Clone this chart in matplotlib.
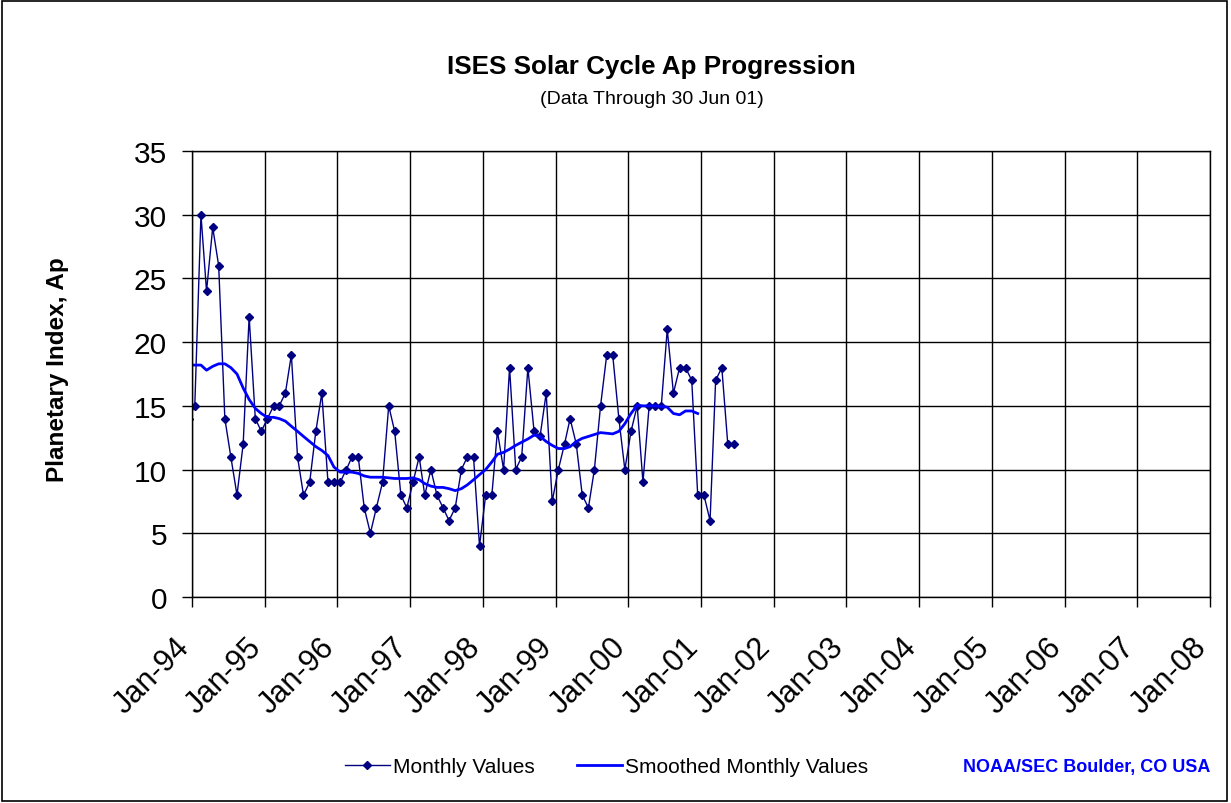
import matplotlib
matplotlib.use("Agg")
import matplotlib.pyplot as plt
import matplotlib.dates as mdates
from matplotlib.patches import Rectangle
from matplotlib.transforms import ScaledTranslation
import pandas as pd

plt.rcParams['font.family'] = ['Liberation Sans', 'DejaVu Sans']

# monthly Ap, Dec 1993 .. Jun 2001
monthly_ap = [14,
              15, 30, 24, 29, 26, 14, 11, 8, 12, 22, 14, 13,
              14, 15, 15, 16, 19, 11, 8, 9, 13, 16, 9, 9,
              9, 10, 11, 11, 7, 5, 7, 9, 15, 13, 8, 7,
              9, 11, 8, 10, 8, 7, 6, 7, 10, 11, 11, 4,
              8, 8, 13, 10, 18, 10, 11, 18, 13, 12.6, 16, 7.5,
              10, 12, 14, 12, 8, 7, 10, 15, 19, 19, 14, 10,
              13, 15, 9, 15, 15, 15, 21, 16, 18, 18, 17, 8,
              8, 6, 17, 18, 12, 12]

# smoothed monthly Ap, Dec 1993 .. Dec 2000
smoothed_ap = [18.2,
               18.2, 18.2, 17.8, 18.1, 18.3, 18.3, 18.0, 17.5, 16.4, 15.5, 14.8, 14.4,
               14.1, 14.1, 14.0, 13.8, 13.4, 13.0, 12.6, 12.2, 11.8, 11.5, 11.1, 10.2,
               9.8, 9.8, 9.8, 9.7, 9.5, 9.4, 9.4, 9.4, 9.35, 9.3, 9.3, 9.3,
               9.35, 9.2, 8.9, 8.7, 8.6, 8.6, 8.5, 8.35, 8.5, 8.8, 9.2, 9.6,
               10.0, 10.6, 11.2, 11.35, 11.6, 11.9, 12.15, 12.4, 12.7, 12.6, 12.2, 11.9,
               11.65, 11.65, 11.8, 12.2, 12.45, 12.6, 12.75, 12.9, 12.85, 12.8, 13.0, 13.6,
               14.4, 15.05, 15.0, 15.0, 15.0, 14.95, 14.9, 14.4, 14.3, 14.6, 14.6, 14.4]

monthly_dates = pd.date_range('1993-12-01', periods=len(monthly_ap), freq='MS') + pd.Timedelta(days=14)
smoothed_dates = pd.date_range('1993-12-01', periods=len(smoothed_ap), freq='MS') + pd.Timedelta(days=14)

y_ticks = [0, 5, 10, 15, 20, 25, 30, 35]

fig = plt.figure(figsize=(12.31, 8.04), dpi=100)
ax = fig.add_axes([192 / 1231, 1 - 598 / 804, (1210 - 192) / 1231, (598 - 152) / 804])

ax.plot(monthly_dates, monthly_ap, color='#000080', lw=1.0, marker='D', ms=3.6,
        label='Monthly Values')
ax.plot(smoothed_dates, smoothed_ap, color='#0000FF', lw=2.0,
        label='Smoothed Monthly Values')

ax.set_xlim(pd.Timestamp('1994-01-01'), pd.Timestamp('2008-01-01'))
ax.set_ylim(0, 35)
ax.set_yticks(y_ticks)
ax.xaxis.set_major_locator(mdates.YearLocator())
ax.xaxis.set_major_formatter(mdates.DateFormatter('%b-%y'))

ax.grid(True, color='black', lw=1.0)
for s in ax.spines.values():
    s.set_color('black')
    s.set_linewidth(1.0)

ax.tick_params(axis='y', length=7, width=1, labelsize=21.5, pad=11)
ax.tick_params(axis='x', length=7, width=1, labelsize=22, pad=18)
offset = ScaledTranslation(-18 / 100, 0, fig.dpi_scale_trans)
for lab in ax.get_xticklabels():
    lab.set_rotation(45)
    lab.set_ha('right')
    lab.set_va('top')
    lab.set_rotation_mode('anchor')
    lab.set_transform(lab.get_transform() + offset)

fig.text(57.5 / 1231, 1 - 370 / 804, 'Planetary Index, Ap', rotation=90,
         ha='center', va='center', fontsize=17.5, fontweight='bold')
fig.text(651 / 1231, 1 - 67 / 804, 'ISES Solar Cycle Ap Progression',
         ha='center', va='center', fontsize=18.7, fontweight='bold')
fig.text(652 / 1231, 1 - 100 / 804, '(Data Through 30 Jun 01)',
         ha='center', va='center', fontsize=14)

fig.legend(loc='center left', bbox_to_anchor=(345 / 1231, 1 - 768 / 804),
           ncol=2, frameon=False, fontsize=15, handlelength=2.16,
           handletextpad=0.15, columnspacing=2.0, borderpad=0, borderaxespad=0)

fig.text(963 / 1231, 1 - 768 / 804, 'NOAA/SEC Boulder, CO USA', ha='left',
         va='center', fontsize=13, fontweight='bold', color='#0000FF')

fig.patches.append(Rectangle((0.002, 0.002), 0.995, 0.995, transform=fig.transFigure,
                             fill=False, edgecolor='black', lw=1.2))

fig.savefig('out.png', dpi=100)
